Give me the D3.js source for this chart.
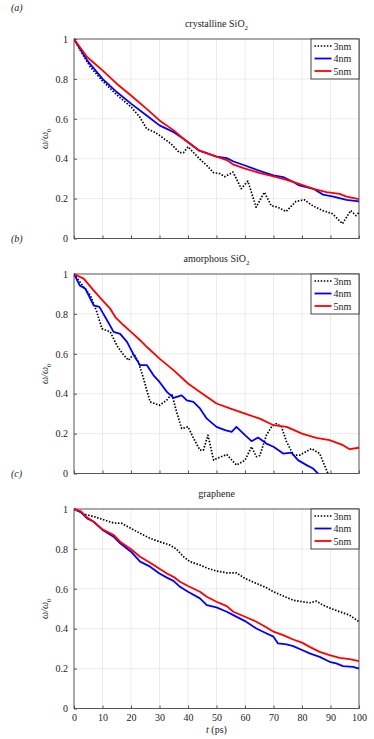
<!DOCTYPE html>
<html>

<head>
    <meta charset="UTF-8" />
    <title>Frequency decay</title>
    <script src="https://d3js.org/d3.v7.min.js"></script>
    <style>
        body { margin: 0; background: #fff; }
        text { font-family: "Liberation Serif", "DejaVu Serif", serif; fill: #222; }
        .grid line { stroke: #e6e6e6; stroke-width: 0.8px; }
        .frame { fill: none; stroke: #555; stroke-width: 1px; }
    </style>
</head>

<body>
    <svg id="chart" width="374" height="739"></svg>

    <script>
        // tick labels / categories
        var xTicks = [0, 10, 20, 30, 40, 50, 60, 70, 80, 90, 100];
        var yTicks = [0, 0.2, 0.4, 0.6, 0.8, 1];
        var seriesNames = ['3nm', '4nm', '5nm'];

        // (a) crystalline SiO2, [t (ps), w/w0]
        var crystalline3nm = [[0,1],[2.2,0.943],[5.7,0.86],[10,0.79],[15,0.72],[20,0.66],[23,0.61],[25.5,0.55],[28,0.535],[30,0.517],[34,0.475],[37,0.43],[38.4,0.43],[40,0.46],[42,0.43],[44,0.40],[47,0.36],[49,0.33],[51.2,0.325],[52.9,0.31],[55.8,0.333],[58.7,0.25],[61,0.288],[63.9,0.157],[66.8,0.232],[69.2,0.165],[71.5,0.157],[74.4,0.135],[77.9,0.186],[80.8,0.194],[83.7,0.165],[87.2,0.14],[90.7,0.124],[94.2,0.074],[97.1,0.14],[98.9,0.115],[100,0.13]];
        var crystalline4nm = [[0,1],[4.6,0.893],[10,0.80],[15,0.734],[20,0.676],[25.5,0.617],[30,0.567],[35,0.533],[38.4,0.50],[44,0.44],[50,0.41],[53.6,0.403],[56,0.386],[60,0.366],[63,0.35],[67.5,0.328],[70,0.316],[73.4,0.308],[77,0.283],[79,0.266],[84,0.249],[87.4,0.22],[91,0.21],[95.6,0.194],[100,0.186]];
        var crystalline5nm = [[0,1],[4.6,0.91],[10,0.843],[15,0.776],[20,0.717],[25.5,0.65],[30,0.592],[35,0.542],[38.4,0.50],[44,0.44],[50,0.41],[53.6,0.393],[56,0.37],[60,0.35],[65.3,0.328],[70,0.311],[74.6,0.294],[79,0.274],[84,0.249],[88.6,0.232],[93.2,0.224],[95.6,0.21],[100,0.197]];

        // (b) amorphous SiO2
        var amorphous3nm = [[0,1],[3.4,0.935],[5.7,0.894],[8,0.81],[9.8,0.726],[12.7,0.71],[15,0.643],[17.4,0.594],[19.1,0.568],[21,0.60],[22.6,0.558],[24.4,0.476],[26.7,0.359],[30,0.342],[32.5,0.367],[34.3,0.40],[36,0.309],[37.8,0.225],[40,0.234],[42,0.175],[44.2,0.117],[45.4,0.117],[47,0.192],[49,0.067],[50,0.075],[53.6,0.095],[57,0.042],[60,0.067],[62.3,0.134],[64,0.084],[65.2,0.09],[67.5,0.192],[69.3,0.234],[71,0.25],[72.8,0.234],[74.6,0.159],[77,0.092],[79.2,0.092],[83.3,0.125],[86.2,0.1],[89.1,0],[90,-0.02]];
        var amorphous4nm = [[0,1],[2,0.943],[4,0.926],[6.9,0.843],[8.9,0.835],[11.6,0.768],[13.9,0.71],[16.2,0.70],[18.6,0.66],[21,0.593],[23.2,0.543],[25.6,0.543],[27.9,0.492],[30,0.459],[32.6,0.409],[34.9,0.379],[37.8,0.392],[39.6,0.367],[41.9,0.359],[44.2,0.326],[46.6,0.275],[50,0.234],[53,0.217],[55.3,0.209],[57,0.234],[60,0.192],[62.3,0.162],[64.6,0.18],[67.5,0.15],[70,0.134],[73.4,0.1],[76.3,0.105],[78.6,0.067],[81.6,0.042],[83.9,0.025],[85.6,0],[86.5,-0.02]];
        var amorphous5nm = [[0,1],[3.4,0.977],[6.9,0.918],[10,0.868],[12.7,0.826],[14.5,0.784],[17.4,0.743],[20,0.71],[23.2,0.668],[25.6,0.634],[30,0.576],[34.9,0.518],[40,0.451],[44.2,0.409],[50,0.351],[54.7,0.326],[60,0.30],[65.2,0.275],[70,0.242],[74.6,0.234],[80,0.20],[85,0.179],[89.7,0.167],[94.4,0.142],[96.7,0.122],[100,0.129]];

        // (c) graphene
        var graphene3nm = [[0,1],[3.4,0.975],[6.9,0.962],[10,0.948],[13.9,0.93],[16.8,0.928],[20,0.903],[23.2,0.878],[26.7,0.853],[30,0.836],[33.7,0.819],[36,0.798],[38.4,0.761],[40.7,0.736],[44.2,0.719],[47.1,0.702],[50,0.689],[53.6,0.68],[57,0.68],[60,0.652],[64,0.627],[67.6,0.605],[70,0.585],[73.4,0.564],[76.9,0.543],[80,0.535],[82.7,0.53],[85,0.538],[87.4,0.518],[90,0.502],[93.2,0.485],[96.7,0.468],[100,0.435]];
        var graphene4nm = [[0,1],[2.2,0.987],[4.6,0.953],[6.9,0.936],[10,0.895],[13.9,0.861],[16.2,0.828],[20,0.786],[23.2,0.736],[26.7,0.711],[30,0.677],[32.6,0.656],[34.9,0.64],[37.2,0.61],[40,0.585],[44.2,0.552],[46.6,0.518],[50,0.507],[53.6,0.485],[55.9,0.468],[60,0.438],[64,0.401],[67.6,0.376],[70,0.36],[71.6,0.326],[74.6,0.321],[76.9,0.313],[80,0.293],[82.7,0.276],[86.2,0.259],[89.7,0.234],[92,0.226],[94.4,0.212],[97.9,0.209],[100,0.2]];
        var graphene5nm = [[0,1],[2.2,0.99],[4.6,0.958],[6.9,0.936],[10,0.898],[13.9,0.87],[16.2,0.836],[20,0.798],[23.2,0.761],[26.7,0.731],[30,0.70],[32.6,0.677],[34.9,0.66],[37.2,0.635],[40,0.614],[44.2,0.585],[46.6,0.56],[50,0.535],[53.6,0.513],[55.9,0.485],[60,0.46],[64,0.435],[67.6,0.406],[70,0.385],[73.4,0.368],[76.9,0.346],[80,0.33],[82.7,0.309],[86.2,0.284],[89.7,0.268],[93.2,0.254],[96.7,0.247],[100,0.237]];

        var panels = [
            { tag: '(a)', title: 'crystalline SiO', sub: '2', top: 39, series: [crystalline3nm, crystalline4nm, crystalline5nm] },
            { tag: '(b)', title: 'amorphous SiO', sub: '2', top: 274, series: [amorphous3nm, amorphous4nm, amorphous5nm] },
            { tag: '(c)', title: 'graphene', sub: '', top: 509, series: [graphene3nm, graphene4nm, graphene5nm] }
        ];

        var colors = ['#000', '#0000ff', '#ff0000'];
        var left = 74, right = 359, plotH = 199.5;
        var svg = d3.select('#chart');

        var x = d3.scaleLinear().domain([0, 100]).range([left, right]);

        panels.forEach(function (p, pi) {
            var y = d3.scaleLinear().domain([0, 1]).range([p.top + plotH, p.top]);
            var g = svg.append('g');

            // panel tag
            g.append('text').attr('x', 11).attr('y', p.top - (pi == 0 ? 28 : 32))
                .style('font-style', 'italic').style('font-size', '10px').text(p.tag);

            // title
            var t = g.append('text').attr('x', (left + right) / 2).attr('y', p.top - 12)
                .attr('text-anchor', 'middle').style('font-size', '10px').text(p.title);
            if (p.sub) t.append('tspan').attr('dy', 2.5).style('font-size', '7px').text(p.sub);

            // grid
            var grid = g.append('g').attr('class', 'grid');
            grid.selectAll('.gx').data(xTicks.slice(1, -1)).enter().append('line')
                .attr('x1', x).attr('x2', x).attr('y1', y(0)).attr('y2', y(1));
            grid.selectAll('.gy').data(yTicks.slice(1, -1)).enter().append('line')
                .attr('x1', left).attr('x2', right).attr('y1', y).attr('y2', y);

            // axes, ticks inward
            var yAxis = g.append('g').attr('transform', 'translate(' + left + ',0)')
                .call(d3.axisLeft(y).tickValues(yTicks).tickSize(-3).tickPadding(6).tickFormat(d3.format('~g')));
            var xAxis = g.append('g').attr('transform', 'translate(0,' + y(0) + ')')
                .call(d3.axisBottom(x).tickValues(xTicks).tickSize(-3).tickPadding(5));
            if (pi < 2) xAxis.selectAll('text').remove();
            [yAxis, xAxis].forEach(function (a) {
                a.select('.domain').remove();
                a.selectAll('line').attr('stroke', '#555');
                a.selectAll('text').style('font-family', '"Liberation Serif", serif')
                    .style('font-size', '10px').attr('fill', '#222');
            });
            g.append('rect').attr('class', 'frame')
                .attr('x', left).attr('y', p.top).attr('width', right - left).attr('height', plotH);

            // y label
            var yl = g.append('text').attr('transform', 'translate(48,' + (p.top + plotH / 2) + ') rotate(-90)')
                .attr('text-anchor', 'middle').style('font-size', '10px').style('font-style', 'italic');
            yl.append('tspan').text('ω/ω');
            yl.append('tspan').attr('dy', 2.5).style('font-size', '7px').style('font-style', 'normal').text('0');

            // lines
            var clipId = 'clip' + pi;
            g.append('clipPath').attr('id', clipId).append('rect')
                .attr('x', left).attr('y', p.top - 2).attr('width', right - left + 2).attr('height', plotH + 2);
            var line = d3.line().x(function (d) { return x(d[0]); }).y(function (d) { return y(d[1]); });
            p.series.forEach(function (s, si) {
                g.append('path').datum(s).attr('d', line)
                    .attr('clip-path', 'url(#' + clipId + ')')
                    .attr('fill', 'none').attr('stroke', colors[si])
                    .attr('stroke-width', si == 0 ? 1.7 : 1.8)
                    .attr('stroke-dasharray', si == 0 ? '1.5,1.6' : null)
                    .attr('stroke-linejoin', 'round');
            });

            // legend
            var lw = 48, lh = 40;
            var lg = g.append('g').attr('transform', 'translate(' + (right - lw) + ',' + p.top + ')');
            lg.append('rect').attr('width', lw).attr('height', lh).attr('fill', '#fff').attr('stroke', '#333').attr('stroke-width', 0.9);
            seriesNames.forEach(function (n, si) {
                var yy = 7 + si * 12.5;
                lg.append('line').attr('x1', 3.5).attr('x2', 20.5).attr('y1', yy).attr('y2', yy)
                    .attr('stroke', colors[si]).attr('stroke-width', si == 0 ? 1.7 : 1.8)
                    .attr('stroke-dasharray', si == 0 ? '1.5,1.6' : null);
                lg.append('text').attr('x', 22.5).attr('y', yy + 3.5).style('font-size', '10px').text(n);
            });
        });

        // x label
        var xl = svg.append('text').attr('x', (left + right) / 2).attr('y', 733)
            .attr('text-anchor', 'middle').style('font-size', '10px');
        xl.append('tspan').style('font-style', 'italic').text('t');
        xl.append('tspan').text(' (ps)');
    </script>
</body>

</html>
